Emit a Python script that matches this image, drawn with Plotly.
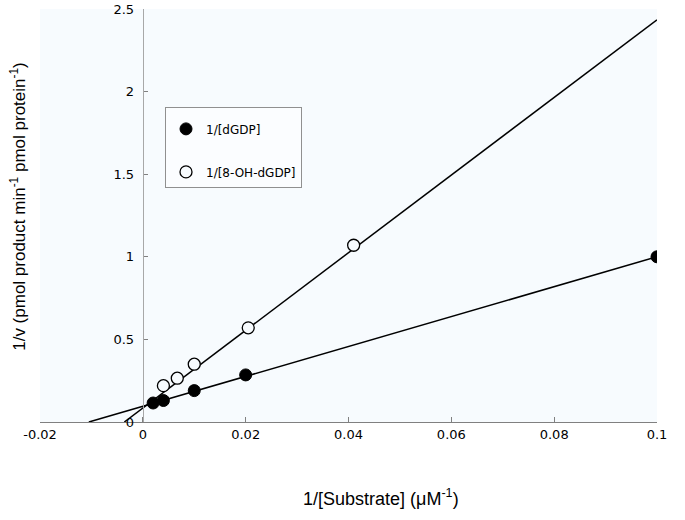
import plotly.graph_objects as go

# 1/[substrate] (uM^-1) and 1/v readings
dgdp_x = [0.002, 0.004, 0.01, 0.02, 0.1]
dgdp_y = [0.115, 0.13, 0.19, 0.285, 1.0]
oh_x = [0.004, 0.0067, 0.01, 0.0205, 0.041]
oh_y = [0.22, 0.265, 0.35, 0.57, 1.07]

# fitted lines (ends)
dgdp_fit_x = [-0.0105, 0.1]
dgdp_fit_y = [0.0, 1.0]
oh_fit_x = [-0.0036, 0.1]
oh_fit_y = [0.0, 2.435]

x_ticks = [-0.02, 0, 0.02, 0.04, 0.06, 0.08, 0.1]
x_labels = ["-0.02", "0", "0.02", "0.04", "0.06", "0.08", "0.1"]
y_ticks = [0, 0.5, 1, 1.5, 2, 2.5]
y_labels = ["0", "0.5", "1", "1.5", "2", "2.5"]

bg = "#f7fbfe"
tick_font = dict(family="DejaVu Sans", size=13, color="black")

fig = go.Figure()
fig.add_trace(go.Scatter(x=dgdp_fit_x, y=dgdp_fit_y, mode="lines",
                         line=dict(color="black", width=1.5), showlegend=False))
fig.add_trace(go.Scatter(x=oh_fit_x, y=oh_fit_y, mode="lines",
                         line=dict(color="black", width=1.5), showlegend=False))
fig.add_trace(go.Scatter(x=dgdp_x, y=dgdp_y, mode="markers", name="1/[dGDP]",
                         legendgroup="a",
                         marker=dict(symbol="circle", size=12, color="black",
                                     line=dict(color="black", width=1))))
fig.add_trace(go.Scatter(x=oh_x, y=oh_y, mode="markers", name="1/[8-OH-dGDP]",
                         legendgroup="b",
                         marker=dict(symbol="circle", size=12, color=bg,
                                     line=dict(color="black", width=1.3))))

fig.update_layout(
    width=685, height=520,
    margin=dict(l=40, r=28, t=9, b=98),
    paper_bgcolor="white", plot_bgcolor=bg,
    xaxis=dict(range=[-0.02, 0.1], tickvals=x_ticks, ticktext=x_labels,
               automargin=False, ticklabeloverflow="allow",
               showgrid=False, zeroline=False,
               showline=True, linecolor="#808080", linewidth=1,
               ticks="inside", ticklen=5, tickcolor="#808080", tickfont=tick_font),
    yaxis=dict(range=[0, 2.5], tickvals=y_ticks, ticktext=y_labels,
               anchor="free", position=1 / 6, automargin=False,
               ticklabeloverflow="allow",
               showgrid=False, zeroline=False,
               showline=True, linecolor="#a8a8a8", linewidth=1.2,
               ticks="inside", ticklen=4, tickcolor="#808080", tickfont=tick_font,
               ticklabelstandoff=6),
    legend=dict(x=0.2026, y=0.763, xanchor="left", yanchor="top",
                bgcolor="#fbfdff", bordercolor="#909090", borderwidth=1,
                font=dict(family="DejaVu Sans", size=12, color="black"),
                title=dict(text=" ", font=dict(size=5)),
                traceorder="grouped", tracegroupgap=24, entrywidth=85,
                itemwidth=30),
    showlegend=True,
    annotations=[
        dict(text="1/v (pmol product min<sup>-1</sup> pmol protein<sup>-1</sup>)",
             xref="paper", yref="paper", x=-0.036, y=0.523, textangle=-90,
             showarrow=False, xanchor="center", yanchor="middle",
             font=dict(family="Liberation Sans", size=17, color="black")),
        dict(text="1/[Substrate] (\u03bcM<sup>-1</sup>)",
             xref="paper", yref="paper", x=0.553, y=-0.182,
             showarrow=False, xanchor="center", yanchor="middle",
             font=dict(family="Liberation Sans", size=18, color="black")),
    ],
)

# drop the page's default 8px body margin so the figure sits at the corner
fig.write_html("out.html", config={"displayModeBar": False},
               post_script="document.body.style.margin='0';")
